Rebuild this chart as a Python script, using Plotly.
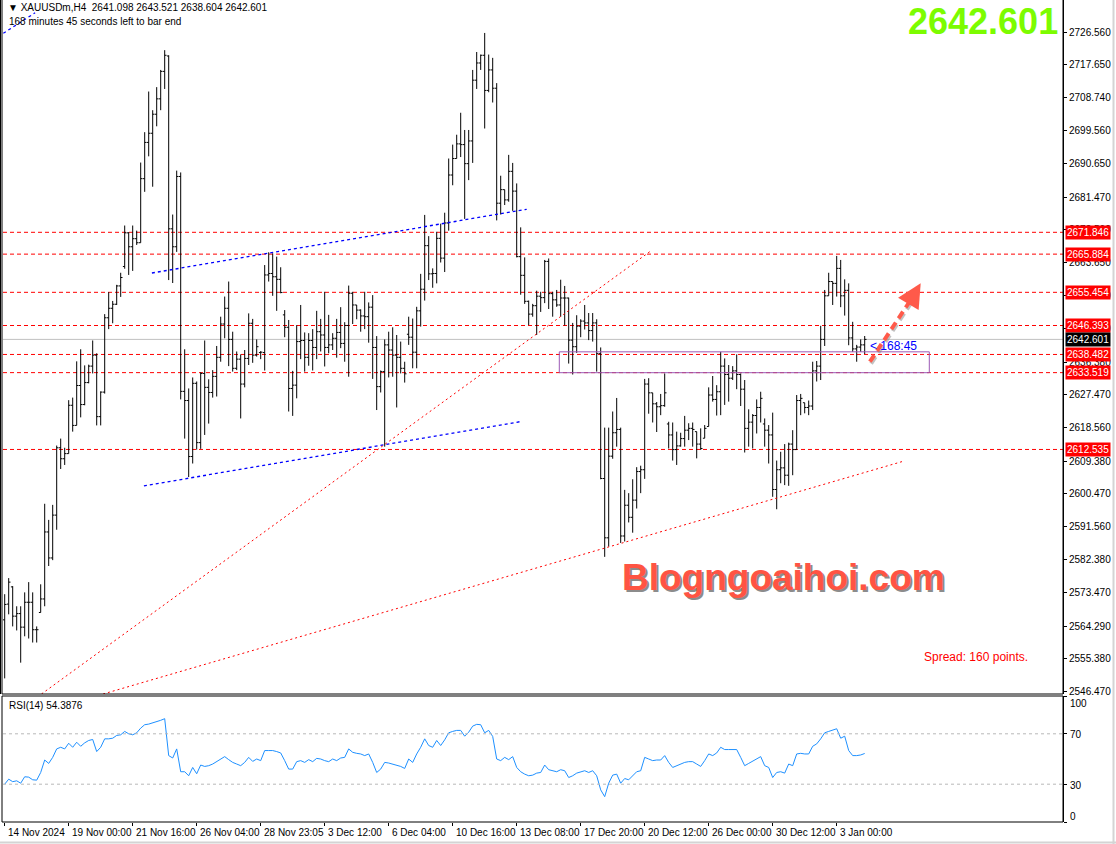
import plotly.graph_objects as go

# ---------------- data ----------------
opens = [2566.0, 2570.3, 2575.0, 2567.0, 2567.7, 2564.0, 2570.8, 2570.8, 2563.3, 2568.0,
         2571.7, 2590.0, 2582.9, 2594.6, 2613.0, 2610.0, 2611.4, 2624.6, 2619.1, 2630.0,
         2624.8, 2630.8, 2635.3, 2638.3, 2621.5, 2628.2, 2648.5, 2651.1, 2652.2, 2657.2,
         2662.5, 2671.7, 2667.9, 2670.1, 2669.0, 2686.5, 2696.4, 2698.9, 2704.1, 2708.3,
         2715.8, 2720.0, 2672.8, 2667.9, 2687.1, 2628.4, 2625.9, 2610.6, 2630.6, 2614.4,
         2633.3, 2629.5, 2628.1, 2632.5, 2637.7, 2646.8, 2651.1, 2642.6, 2634.7, 2637.2,
         2630.4, 2637.4, 2647.0, 2638.3, 2639.0, 2639.0, 2660.2, 2660.6, 2659.7, 2659.0,
         2649.3, 2645.9, 2629.2, 2630.1, 2642.0, 2642.3, 2637.7, 2642.3, 2640.4, 2644.7,
         2643.8, 2640.4, 2641.1, 2642.9, 2644.5, 2641.5, 2646.4, 2655.2, 2652.0, 2650.6,
         2649.0, 2648.8, 2651.4, 2640.4, 2629.7, 2633.8, 2641.1, 2639.7, 2638.3, 2637.7,
         2634.7, 2644.0, 2643.2, 2639.1, 2650.4, 2656.3, 2668.2, 2660.5, 2660.6, 2670.2,
         2664.8, 2674.4, 2687.5, 2692.0, 2696.0, 2695.8, 2690.6, 2696.8, 2713.4, 2718.1,
         2720.2, 2710.6, 2716.2, 2711.2, 2679.8, 2683.5, 2680.7, 2688.5, 2683.1, 2665.2,
         2660.1, 2653.0, 2649.5, 2651.8, 2654.4, 2654.0, 2663.9, 2655.1, 2653.4, 2652.0,
         2653.9, 2653.9, 2642.4, 2640.6, 2646.2, 2647.6, 2647.1, 2645.0, 2647.1, 2638.7,
         2604.6, 2588.4, 2610.7, 2617.1, 2618.0, 2588.9, 2597.3, 2594.0, 2598.7, 2606.5,
         2607.0, 2630.4, 2628.0, 2625.0, 2624.2, 2624.5, 2619.5, 2616.5, 2612.5, 2613.5,
         2615.5, 2617.8, 2618.3, 2617.4, 2614.0, 2615.6, 2618.8, 2627.4, 2626.2, 2628.3,
         2635.3, 2633.0, 2632.0, 2634.0, 2633.0, 2629.0, 2618.3, 2620.0, 2621.8, 2624.0,
         2619.5, 2617.8, 2616.5, 2601.6, 2607.0, 2607.5, 2605.5, 2614.0, 2612.5, 2625.9,
         2625.3, 2624.0, 2624.4, 2634.0, 2635.3, 2642.6, 2654.5, 2658.4, 2657.9, 2662.0,
         2654.5, 2656.0, 2643.0, 2640.0, 2640.5, 2641.098]
highs = [2573.0, 2577.4, 2575.2, 2569.7, 2569.7, 2573.5, 2576.3, 2573.5, 2564.2, 2575.7,
         2597.7, 2593.3, 2597.4, 2613.6, 2615.5, 2613.0, 2626.0, 2626.7, 2636.6, 2639.9,
         2635.5, 2635.7, 2642.3, 2638.8, 2628.4, 2649.5, 2655.5, 2653.1, 2657.5, 2660.8,
         2673.7, 2671.9, 2673.7, 2672.3, 2690.9, 2699.2, 2710.3, 2705.2, 2711.5, 2716.2,
         2721.6, 2720.2, 2676.7, 2688.7, 2688.2, 2639.9, 2629.2, 2632.2, 2631.1, 2633.6,
         2642.3, 2631.7, 2634.2, 2640.8, 2648.8, 2654.3, 2658.4, 2644.7, 2639.3, 2638.5,
         2639.7, 2649.7, 2648.2, 2642.6, 2639.4, 2662.9, 2666.4, 2666.1, 2665.2, 2662.3,
         2650.6, 2647.9, 2634.0, 2646.5, 2652.0, 2644.5, 2644.3, 2645.4, 2650.4, 2648.2,
         2655.6, 2649.3, 2644.3, 2648.2, 2651.4, 2647.3, 2657.3, 2655.6, 2652.0, 2650.8,
         2655.6, 2652.7, 2654.7, 2643.5, 2634.1, 2642.6, 2644.7, 2645.9, 2643.8, 2642.0,
         2636.5, 2648.8, 2648.3, 2651.5, 2660.5, 2676.6, 2670.8, 2662.0, 2672.0, 2674.2,
         2677.2, 2692.0, 2695.8, 2698.5, 2704.5, 2699.8, 2699.8, 2716.2, 2721.1, 2720.4,
         2726.3, 2720.4, 2719.5, 2712.6, 2687.3, 2683.5, 2693.0, 2690.8, 2685.2, 2673.2,
         2665.0, 2653.2, 2652.3, 2655.9, 2655.6, 2664.3, 2664.7, 2655.6, 2656.1, 2658.9,
         2657.2, 2654.0, 2647.1, 2649.2, 2648.1, 2652.0, 2649.8, 2649.8, 2648.1, 2640.4,
         2618.5, 2618.5, 2622.9, 2626.6, 2618.5, 2601.5, 2600.6, 2604.4, 2607.7, 2608.1,
         2631.8, 2632.0, 2628.0, 2625.5, 2627.7, 2633.3, 2620.1, 2619.9, 2617.4, 2617.1,
         2621.7, 2619.7, 2619.9, 2617.4, 2618.3, 2619.2, 2629.5, 2632.6, 2630.1, 2639.2,
         2637.4, 2635.6, 2635.3, 2638.5, 2633.3, 2631.5, 2623.5, 2622.2, 2626.2, 2628.3,
         2621.0, 2619.2, 2622.6, 2609.5, 2611.9, 2614.0, 2614.4, 2617.8, 2627.4, 2627.7,
         2625.3, 2625.9, 2636.5, 2636.7, 2646.3, 2656.1, 2660.8, 2658.4, 2665.4, 2664.3,
         2659.0, 2657.9, 2647.4, 2641.1, 2642.6, 2643.521]
lows = [2550.0, 2567.5, 2564.2, 2563.1, 2554.3, 2561.5, 2560.9, 2559.8, 2559.8, 2568.0,
        2569.7, 2580.7, 2582.3, 2590.6, 2607.2, 2608.3, 2611.4, 2617.4, 2619.1, 2621.3,
        2624.6, 2630.6, 2633.3, 2619.1, 2619.1, 2627.8, 2645.4, 2647.0, 2652.0, 2654.2,
        2661.9, 2660.2, 2661.3, 2668.4, 2669.0, 2682.9, 2692.6, 2684.3, 2700.8, 2705.2,
        2711.0, 2658.8, 2658.0, 2666.5, 2626.2, 2615.5, 2605.0, 2608.7, 2612.5, 2612.7,
        2616.5, 2619.6, 2626.7, 2627.0, 2636.5, 2642.9, 2635.3, 2633.8, 2634.2, 2621.0,
        2629.5, 2635.6, 2636.2, 2637.9, 2637.2, 2634.1, 2658.4, 2654.5, 2650.4, 2655.2,
        2643.2, 2622.9, 2621.7, 2626.5, 2637.2, 2633.8, 2635.4, 2634.1, 2637.2, 2639.3,
        2635.2, 2638.8, 2639.7, 2637.6, 2640.2, 2636.5, 2632.4, 2646.8, 2648.1, 2644.7,
        2645.4, 2641.7, 2631.8, 2623.3, 2628.1, 2613.3, 2632.2, 2632.4, 2624.0, 2633.3,
        2630.8, 2641.1, 2634.7, 2634.7, 2646.1, 2653.2, 2658.8, 2656.7, 2657.9, 2663.6,
        2661.0, 2672.3, 2684.7, 2692.0, 2692.4, 2675.5, 2686.1, 2690.8, 2711.0, 2716.2,
        2700.2, 2710.1, 2707.3, 2675.1, 2676.7, 2679.3, 2680.2, 2677.7, 2665.0, 2654.8,
        2652.3, 2646.5, 2648.8, 2643.8, 2650.1, 2652.5, 2650.9, 2648.8, 2651.5, 2648.8,
        2646.4, 2636.0, 2633.0, 2638.9, 2643.2, 2645.3, 2642.4, 2642.0, 2633.8, 2604.4,
        2583.2, 2586.0, 2610.0, 2613.3, 2587.0, 2587.4, 2592.6, 2589.8, 2596.4, 2600.6,
        2604.5, 2622.3, 2619.9, 2617.3, 2621.9, 2624.2, 2612.8, 2609.5, 2608.3, 2613.3,
        2613.3, 2615.1, 2613.3, 2610.1, 2612.4, 2615.6, 2618.8, 2625.6, 2621.8, 2621.9,
        2624.7, 2625.6, 2631.5, 2629.0, 2624.4, 2611.7, 2613.3, 2612.8, 2616.9, 2619.9,
        2613.3, 2608.7, 2599.6, 2596.2, 2603.3, 2602.8, 2602.6, 2605.5, 2612.4, 2621.9,
        2622.4, 2621.9, 2623.3, 2631.1, 2631.5, 2640.8, 2654.5, 2652.0, 2654.3, 2651.4,
        2649.1, 2641.0, 2639.2, 2636.5, 2639.2, 2638.604]
closes = [2570.2, 2576.3, 2567.0, 2567.7, 2564.0, 2570.8, 2570.8, 2563.3, 2563.3, 2571.7,
          2590.0, 2582.9, 2594.6, 2613.0, 2610.0, 2611.4, 2624.6, 2619.1, 2630.0, 2624.8,
          2630.8, 2635.3, 2638.3, 2621.5, 2628.2, 2648.5, 2651.1, 2652.2, 2657.2, 2659.5,
          2671.7, 2667.9, 2670.1, 2669.0, 2686.5, 2696.4, 2698.9, 2704.1, 2708.3, 2715.8,
          2720.2, 2672.8, 2667.9, 2687.1, 2628.4, 2625.9, 2610.6, 2630.6, 2614.4, 2633.3,
          2629.5, 2628.1, 2632.5, 2637.7, 2646.8, 2651.1, 2642.6, 2634.7, 2637.2, 2630.4,
          2637.4, 2647.0, 2638.3, 2640.6, 2639.1, 2660.2, 2660.6, 2659.7, 2659.0, 2655.4,
          2645.9, 2629.2, 2630.1, 2642.0, 2642.3, 2637.7, 2642.3, 2640.4, 2644.7, 2643.8,
          2640.4, 2641.1, 2642.9, 2644.5, 2641.5, 2646.4, 2655.2, 2652.0, 2650.6, 2649.0,
          2648.8, 2651.4, 2640.4, 2629.7, 2633.8, 2641.1, 2639.7, 2638.3, 2637.7, 2634.7,
          2633.2, 2643.2, 2639.1, 2650.4, 2656.3, 2668.2, 2660.5, 2660.6, 2670.2, 2664.8,
          2674.4, 2687.5, 2692.0, 2696.0, 2695.8, 2690.6, 2696.8, 2713.4, 2718.1, 2720.2,
          2710.6, 2716.2, 2711.2, 2679.8, 2683.5, 2680.7, 2688.5, 2683.1, 2665.2, 2660.1,
          2653.0, 2649.5, 2651.8, 2654.4, 2654.0, 2663.9, 2655.1, 2653.4, 2652.0, 2653.9,
          2653.9, 2642.4, 2640.6, 2646.2, 2647.6, 2647.1, 2645.0, 2647.1, 2638.7, 2604.6,
          2588.4, 2610.7, 2617.1, 2618.0, 2588.9, 2597.3, 2594.0, 2598.7, 2606.5, 2607.0,
          2630.4, 2628.0, 2625.0, 2624.2, 2624.5, 2628.0, 2616.5, 2612.5, 2613.5, 2615.5,
          2617.8, 2618.3, 2618.0, 2614.0, 2612.8, 2618.3, 2627.4, 2626.2, 2628.3, 2635.3,
          2633.0, 2632.0, 2634.0, 2633.0, 2629.0, 2618.3, 2620.0, 2621.8, 2624.0, 2626.5,
          2617.8, 2616.5, 2601.6, 2607.0, 2607.5, 2605.5, 2614.0, 2612.5, 2625.9, 2626.5,
          2624.0, 2624.4, 2634.0, 2635.3, 2642.6, 2654.5, 2658.4, 2657.9, 2662.0, 2654.5,
          2656.0, 2643.0, 2640.0, 2640.5, 2641.1, 2642.601]
rsi_values = [30.0, 34.0, 32.0, 32.7, 30.8, 35.9, 35.6, 33.5, 33.2, 39.3,
              49.2, 46.5, 51.3, 58.0, 59.3, 58.0, 62.5, 59.3, 63.3, 60.1,
              62.8, 64.7, 65.5, 55.9, 59.3, 66.0, 66.0, 66.5, 68.7, 69.2,
              71.9, 70.0, 69.2, 70.8, 74.5, 77.2, 77.7, 78.5, 79.3, 80.7,
              82.0, 52.7, 50.8, 58.0, 39.9, 39.9, 36.7, 43.3, 38.3, 45.2,
              44.1, 44.7, 46.0, 47.9, 49.5, 51.9, 49.5, 47.3, 46.0, 44.7,
              47.3, 51.3, 48.1, 50.0, 48.7, 56.7, 56.7, 56.7, 55.9, 54.8,
              48.7, 42.0, 42.0, 47.9, 48.7, 47.3, 49.5, 47.9, 50.5, 50.0,
              48.7, 47.9, 50.0, 48.7, 50.8, 51.3, 58.0, 55.3, 54.5, 54.0,
              52.7, 54.0, 47.3, 39.3, 42.0, 47.3, 46.8, 46.0, 45.2, 44.1,
              42.5, 50.0, 47.3, 54.0, 59.3, 66.0, 60.7, 59.3, 64.7, 60.7,
              65.2, 70.8, 71.9, 72.7, 72.7, 68.1, 71.3, 76.1, 77.5, 77.2,
              70.8, 72.7, 67.9, 50.0, 48.7, 51.3, 49.5, 51.9, 43.3, 39.9,
              38.0, 36.7, 37.2, 38.8, 39.3, 45.2, 41.5, 40.7, 39.9, 41.5,
              40.7, 35.3, 36.7, 38.8, 39.9, 40.7, 39.3, 40.7, 36.7, 25.5,
              20.1, 30.8, 37.2, 38.0, 30.8, 34.5, 33.5, 36.7, 39.9, 40.7,
              51.3, 50.0, 48.7, 49.2, 49.2, 52.7, 47.3, 43.3, 44.7, 46.0,
              47.3, 47.9, 47.9, 46.0, 44.1, 48.7, 54.0, 52.7, 54.8, 59.3,
              57.5, 57.5, 57.5, 57.5, 51.3, 44.7, 46.5, 48.1, 50.0, 51.9,
              44.7, 43.3, 35.3, 39.3, 39.9, 38.8, 46.0, 44.7, 54.0, 54.5,
              54.0, 54.0, 60.1, 62.0, 66.0, 70.8, 71.9, 73.2, 74.0, 66.5,
              68.1, 56.7, 52.7, 52.7, 53.2, 54.39]
date_labels = ["14 Nov 2024", "19 Nov 00:00", "21 Nov 16:00", "26 Nov 04:00", "28 Nov 23:05",
               "3 Dec 12:00", "6 Dec 04:00", "10 Dec 16:00", "13 Dec 08:00", "17 Dec 20:00",
               "20 Dec 12:00", "26 Dec 00:00", "30 Dec 12:00", "3 Jan 00:00"]
date_label_bars = [0, 16, 32, 48, 64, 80, 96, 112, 128, 144, 160, 176, 192, 208]
price_ticks = [2726.560, 2717.650, 2708.740, 2699.560, 2690.650, 2681.470, 2672.560,
               2663.650, 2654.470, 2645.560, 2636.380, 2627.470, 2618.560, 2609.380,
               2600.470, 2591.560, 2582.380, 2573.470, 2564.290, 2555.380, 2546.470]
red_levels = [2671.846, 2665.884, 2655.454, 2646.393, 2638.482, 2633.519, 2612.535]
last_price = 2642.601
rsi_levels = [70, 30]
rsi_ticks = [100, 70, 30, 0]
bars = list(range(len(closes)))

# ---------------- layout helpers ----------------
W, H = 1116, 844
ML, MR, MT, MB = 3, 53, 0, 22
PW, PH = W - ML - MR, H - MT - MB


def px(x):
    return (x - ML) / PW


def py(y):
    return (PH - (y - MT)) / PH


FONT = "Liberation Sans"
main_dom = [py(694), 1]
rsi_dom = [0, py(696)]
x_range = [-0.425, 264.575]
y_range = [2545.74, 2735.30]

fig = go.Figure()
fig.add_trace(go.Ohlc(
    x=bars, open=opens, high=highs, low=lows, close=closes,
    increasing=dict(line=dict(color="black", width=1)),
    decreasing=dict(line=dict(color="black", width=1)),
    tickwidth=0.45, xaxis="x", yaxis="y", hoverinfo="skip", showlegend=False))
fig.add_trace(go.Scatter(
    x=bars, y=rsi_values, mode="lines", line=dict(color="#1e90ff", width=1),
    xaxis="x2", yaxis="y2", hoverinfo="skip", showlegend=False))

shapes = []
# horizontal levels
for lv in red_levels:
    shapes.append(dict(type="line", xref="x domain", yref="y", x0=0, x1=1, y0=lv, y1=lv,
                       line=dict(color="#ff0000", width=1, dash="4px,3px"), layer="below"))
shapes.append(dict(type="line", xref="x domain", yref="y", x0=0, x1=1, y0=last_price, y1=last_price,
                   line=dict(color="#c0c0c0", width=1), layer="below"))
# trend lines
trend = [
    ((36.8, 2660.73), (130.5, 2678.13), "#0000ff", "3px,3px", 1.3),
    ((34.8, 2602.6), (128.7, 2620.1), "#0000ff", "3px,3px", 1.3),
    ((-0.35, 2726.2), (7.6, 2731.8), "#0000ff", "3px,3px", 1.3),
    ((9.2, 2545.74), (161.3, 2666.58), "#ff0000", "2px,3px", 1),
    ((24.6, 2545.74), (224.6, 2609.3), "#ff0000", "2px,3px", 1),
]
for (a, b, c, d, w) in trend:
    shapes.append(dict(type="line", xref="x", yref="y", x0=a[0], y0=a[1], x1=b[0], y1=b[1],
                       line=dict(color=c, width=w, dash=d)))
# rectangle zone
shapes.append(dict(type="rect", xref="x", yref="y", x0=138.65, x1=231.15, y0=2633.5, y1=2639.2,
                   line=dict(color="#9b59b6", width=1), fillcolor="rgba(0,0,0,0)"))
# dashed arrow (shadow + body)
shapes.append(dict(type="line", xref="x", yref="y", x0=216.6, y0=2636.0, x1=227.6, y1=2654.2,
                   line=dict(color="rgba(120,120,120,0.45)", width=4, dash="8px,5px")))
shapes.append(dict(type="line", xref="x", yref="y", x0=216.3, y0=2636.5, x1=227.3, y1=2654.7,
                   line=dict(color="#ff5a4a", width=4, dash="8px,5px")))
# RSI levels
for lv in rsi_levels:
    shapes.append(dict(type="line", xref="x2 domain", yref="y2", x0=0, x1=1, y0=lv, y1=lv,
                       line=dict(color="#b8b8b8", width=1, dash="3px,3px")))
# pane frames
shapes.append(dict(type="rect", xref="paper", yref="paper", x0=px(2), x1=1, y0=main_dom[0], y1=1.01,
                   line=dict(color="black", width=1)))
shapes.append(dict(type="rect", xref="paper", yref="paper", x0=px(2), x1=1, y0=0, y1=rsi_dom[1],
                   line=dict(color="black", width=1)))
shapes.append(dict(type="line", xref="paper", yref="paper", x0=px(0.5), x1=px(0.5), y0=main_dom[0], y1=1.01,
                   line=dict(color="black", width=1)))
# window border
shapes.append(dict(type="line", xref="paper", yref="paper", x0=px(1113.5), x1=px(1113.5), y0=py(844), y1=py(0),
                   line=dict(color="#d4d4d4", width=2)))
shapes.append(dict(type="line", xref="paper", yref="paper", x0=px(0), x1=px(1116), y0=py(842.5), y1=py(842.5),
                   line=dict(color="#d4d4d4", width=2)))

ann = []
# arrow head
ann.append(dict(x=229.0, y=2657.9, xref="x", yref="y", ax=226.2, ay=2652.8, axref="x", ayref="y",
                showarrow=True, arrowhead=2, arrowsize=1.2, arrowwidth=4, arrowcolor="#ff5a4a", text=""))
# price level labels
for lv in red_levels:
    ann.append(dict(x=px(1065), y=lv, xref="paper", yref="y", xanchor="left", yanchor="middle",
                    text=f"{lv:.3f}", showarrow=False, bgcolor="#ff0000", borderpad=1,
                    font=dict(family=FONT, size=10, color="white")))
ann.append(dict(x=px(1065), y=last_price, xref="paper", yref="y", xanchor="left", yanchor="middle",
                text=f"{last_price:.3f}", showarrow=False, bgcolor="#000000", borderpad=1,
                font=dict(family=FONT, size=10, color="white")))
# RSI axis labels
for v, yy in zip(rsi_ticks, [703, 734, 785, 816]):
    ann.append(dict(x=px(1068), y=py(yy), xref="paper", yref="paper", xanchor="left", yanchor="middle",
                    text=str(v), showarrow=False, font=dict(family=FONT, size=10, color="black")))
# header texts
ann.append(dict(x=px(6), y=py(7), xref="paper", yref="paper", xanchor="left", yanchor="middle",
                text="▼ XAUUSDm,H4\u00a0\u00a02641.098 2643.521 2638.604 2642.601", showarrow=False,
                font=dict(family=FONT, size=10, color="black")))
ann.append(dict(x=px(7), y=py(21), xref="paper", yref="paper", xanchor="left", yanchor="middle",
                text="168 minutes 45 seconds left to bar end", showarrow=False,
                font=dict(family=FONT, size=10, color="black")))
ann.append(dict(x=px(7), y=py(705), xref="paper", yref="paper", xanchor="left", yanchor="middle",
                text="RSI(14) 54.3876", showarrow=False, font=dict(family=FONT, size=10, color="black")))
# big price
ann.append(dict(x=px(983), y=py(22), xref="paper", yref="paper", xanchor="center", yanchor="middle",
                text="<b>2642.601</b>", showarrow=False, font=dict(family=FONT, size=36, color="#7cfc00")))
# watermark with shadow
ann.append(dict(x=px(785), y=py(579), xref="paper", yref="paper", xanchor="center", yanchor="middle",
                text="<b>Blogngoaihoi.com</b>", showarrow=False, font=dict(family=FONT, size=37, color="#8c8c8c")))
ann.append(dict(x=px(783), y=py(577), xref="paper", yref="paper", xanchor="center", yanchor="middle",
                text="<b>Blogngoaihoi.com</b>", showarrow=False, font=dict(family=FONT, size=37, color="#ff5443")))
ann.append(dict(x=px(976), y=py(657), xref="paper", yref="paper", xanchor="center", yanchor="middle",
                text="Spread: 160 points.", showarrow=False, font=dict(family=FONT, size=12, color="#ff0000")))
ann.append(dict(x=px(868), y=py(346), xref="paper", yref="paper", xanchor="left", yanchor="middle",
                text="&lt; 168:45", showarrow=False, font=dict(family=FONT, size=12, color="#0000ff")))
# date labels
for b, t in zip(date_label_bars, date_labels):
    ann.append(dict(x=b, y=0, xref="x2", yref="paper", xanchor="left", yanchor="top", xshift=1, yshift=-3,
                    text=t, showarrow=False, font=dict(family=FONT, size=10, color="black")))

fig.update_layout(
    width=W, height=H, margin=dict(l=ML, r=MR, t=MT, b=MB),
    paper_bgcolor="white", plot_bgcolor="white", showlegend=False,
    font=dict(family=FONT, size=10, color="black"),
    xaxis=dict(domain=[0, 1], range=x_range, anchor="y", showticklabels=False, showgrid=False,
               zeroline=False, ticks="", rangeslider=dict(visible=False), fixedrange=True),
    xaxis2=dict(domain=[0, 1], range=x_range, anchor="y2", tickvals=date_label_bars,
                showticklabels=False, ticks="outside", ticklen=3, tickcolor="black",
                showgrid=False, zeroline=False),
    yaxis=dict(domain=main_dom, range=y_range, side="right", anchor="x", tickvals=price_ticks,
               ticktext=[f"{v:.3f}" for v in price_ticks], ticks="outside", ticklen=3,
               tickcolor="black", showgrid=False, zeroline=False, showline=True, linecolor="black",
               tickfont=dict(family=FONT, size=10, color="black")),
    yaxis2=dict(domain=rsi_dom, range=[0, 100], side="right", anchor="x2", tickvals=rsi_ticks,
                showticklabels=False, ticks="outside", ticklen=3, tickcolor="black",
                showgrid=False, zeroline=False, showline=True, linecolor="black"),
    shapes=shapes, annotations=ann,
)

fig.write_html("out.html", config={"displayModeBar": False},
               post_script="document.body.style.margin='0';document.body.style.padding='0';"
                           "document.body.style.overflow='hidden';")
